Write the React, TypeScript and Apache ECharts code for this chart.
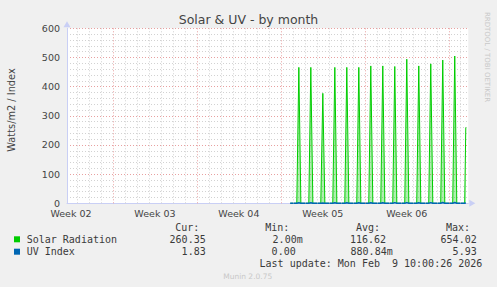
import React, { useEffect, useRef } from "react";
import * as echarts from "echarts";

// ---- data (x in days, 0 = first major week line) ----
const X_MIN = -3.83;
const X_MAX = 29.63;
const WEEK_LABELS = ["Week 02", "Week 03", "Week 04", "Week 05", "Week 06"];
const WEEK_LABEL_DAYS = [-3.5, 3.5, 10.5, 17.5, 24.5];
const WEEK_LINE_DAYS = [0, 7, 14, 21, 28];

const DATA_START_DAY = 14.78;
const SOLAR_DAYS = [15, 16, 17, 18, 19, 20, 21, 22, 23, 24, 25, 26, 27, 28];
const SOLAR_PEAKS = [466, 466, 377, 466, 466, 466, 471, 471, 469, 494, 471, 478, 491, 505];
const UV_PEAKS = [1.9, 1.8, 1.1, 1.9, 2.0, 2.0, 2.1, 2.0, 2.2, 2.4, 2.1, 2.3, 2.5, 2.6];
const LAST_DAY = 29;
const LAST_TIME = 29.42;
const SOLAR_CUR = 260.35;
const UV_CUR = 1.83;

const Y_TICKS = [0, 100, 200, 300, 400, 500, 600];

const LEGEND_NAMES = ["Solar Radiation", "UV Index"];
const LEGEND_COLORS = ["#00cc00", "#0066b3"];
const STAT_HEADERS = ["Cur:", "Min:", "Avg:", "Max:"];
const SOLAR_STATS = ["260.35", "2.00m", "116.62", "654.02"];
const UV_STATS = ["1.83", "0.00", "880.84m", "5.93"];
const LAST_UPDATE = "Last update: Mon Feb  9 10:00:26 2026";

function buildSeries(peaks: number[], cur: number): number[][] {
  const pts: number[][] = [[DATA_START_DAY, 0]];
  SOLAR_DAYS.forEach((d, i) => {
    pts.push([d + 0.33, 0]);
    pts.push([d + 0.5, peaks[i]]);
    pts.push([d + 0.67, 0]);
  });
  pts.push([LAST_DAY + 0.33, 0]);
  pts.push([LAST_TIME, cur]);
  return pts;
}

export default function App() {
  const ref = useRef<HTMLDivElement>(null);
  useEffect(() => {
    if (!ref.current) return;
    const chart = echarts.init(ref.current, null, { renderer: "svg" });

    const solar = buildSeries(SOLAR_PEAKS, SOLAR_CUR);
    const uv = buildSeries(UV_PEAKS, UV_CUR);

    const dayLines: any[] = [];
    for (let d = Math.ceil(X_MIN); d <= Math.floor(X_MAX); d++) {
      if (WEEK_LINE_DAYS.indexOf(d) >= 0) continue;
      dayLines.push({ xAxis: d, lineStyle: { color: "#d2d2d2", type: [1, 2], width: 1 } });
    }
    WEEK_LINE_DAYS.forEach((d) =>
      dayLines.push({ xAxis: d, lineStyle: { color: "#e8a0a0", type: [1, 2], width: 1 } })
    );

    const mono = "'DejaVu Sans Mono', monospace";
    const sans = "'DejaVu Sans', sans-serif";
    const txt = "#3a3a3a";

    const graphic: any[] = [
      {
        type: "text",
        x: 248.5,
        y: 19,
        style: { text: "Solar & UV - by month", font: `12.5px ${sans}`, fill: "#444", textAlign: "center", textVerticalAlign: "middle" },
      },
      {
        type: "text",
        x: 11.7,
        y: 110,
        rotation: Math.PI / 2,
        style: { text: "Watts/m2 / Index", font: `9.8px ${sans}`, fill: "#444", textAlign: "center", textVerticalAlign: "middle" },
      },
      {
        type: "text",
        x: 486.5,
        y: 57,
        rotation: -Math.PI / 2,
        style: { text: "RRDTOOL / TOBI OETIKER", font: `7px ${sans}`, fill: "#c8c8c8", textAlign: "center", textVerticalAlign: "middle" },
      },
      {
        type: "text",
        x: 247.7,
        y: 276,
        style: { text: "Munin 2.0.75", font: `7.5px ${sans}`, fill: "#c8c8c8", textAlign: "center", textVerticalAlign: "middle" },
      },
    ];

    const headerRight = [199.3, 289.3, 380, 470];
    STAT_HEADERS.forEach((h, i) =>
      graphic.push({
        type: "text",
        x: headerRight[i],
        y: 227.7,
        style: { text: h, font: `10px ${mono}`, fill: txt, textAlign: "right", textVerticalAlign: "middle" },
      })
    );
    const rowY = [239.3, 251.7];
    const statRight = [
      [205.7, 302.7, 386, 476.7],
      [205.7, 295.7, 392.7, 476.7],
    ];
    [SOLAR_STATS, UV_STATS].forEach((row, r) => {
      graphic.push({
        type: "rect",
        shape: { x: 14, y: rowY[r] - 3, width: 6, height: 6 },
        style: { fill: LEGEND_COLORS[r] },
      });
      graphic.push({
        type: "text",
        x: 26.7,
        y: rowY[r],
        style: { text: LEGEND_NAMES[r], font: `10px ${mono}`, fill: txt, textAlign: "left", textVerticalAlign: "middle" },
      });
      row.forEach((v, i) =>
        graphic.push({
          type: "text",
          x: statRight[r][i],
          y: rowY[r],
          style: { text: v, font: `10px ${mono}`, fill: txt, textAlign: "right", textVerticalAlign: "middle" },
        })
      );
    });
    graphic.push({
      type: "text",
      x: 482.3,
      y: 263.3,
      style: { text: LAST_UPDATE, font: `10px ${mono}`, fill: txt, textAlign: "right", textVerticalAlign: "middle" },
    });

    const axisLineStyle = {
      show: true,
      onZero: false,
      lineStyle: { color: "#c9cff5", width: 1 },
      symbol: ["none", "triangle"],
      symbolSize: [7, 6],
      symbolOffset: [0, 4],
    };

    chart.setOption({
      animation: false,
      backgroundColor: "#f0f0f0",
      grid: {
        left: 67,
        right: 28.7,
        top: 28.3,
        bottom: 83.7,
        show: true,
        backgroundColor: "#ffffff",
        borderWidth: 0,
      },
      xAxis: {
        type: "value",
        min: X_MIN,
        max: X_MAX,
        splitLine: { show: false },
        axisTick: { show: false },
        axisLine: axisLineStyle,
        axisLabel: {
          customValues: WEEK_LABEL_DAYS,
          formatter: (v: number) => {
            const i = WEEK_LABEL_DAYS.findIndex((d) => Math.abs(d - v) < 1e-6);
            return i >= 0 ? WEEK_LABELS[i] : "";
          },
          color: "#444",
          fontFamily: sans,
          fontSize: 9.5,
          margin: 5,
          showMinLabel: true,
          showMaxLabel: true,
        },
      },
      yAxis: {
        type: "value",
        min: 0,
        max: 600,
        interval: 100,
        axisLine: axisLineStyle,
        axisTick: { show: false },
        axisLabel: {
          color: "#444",
          fontFamily: sans,
          fontSize: 9.5,
          margin: 7,
          formatter: (v: number) => (Y_TICKS.indexOf(v) >= 0 ? String(v) : ""),
        },
        splitLine: { show: true, lineStyle: { color: "#e8a0a0", type: [1, 2], width: 1 } },
        minorTick: { show: false, splitNumber: 5 },
        minorSplitLine: { show: true, lineStyle: { color: "#d2d2d2", type: [1, 2], width: 1 } },
      },
      series: [
        {
          type: "line",
          data: [],
          z: 1,
          silent: true,
          markLine: {
            silent: true,
            symbol: ["none", "none"],
            label: { show: false },
            animation: false,
            data: dayLines,
          },
        },
        {
          name: LEGEND_NAMES[0],
          type: "line",
          data: solar,
          z: 3,
          showSymbol: false,
          symbol: "none",
          lineStyle: { color: LEGEND_COLORS[0], width: 1 },
          areaStyle: { color: "rgba(0,204,0,0.45)", origin: "start" },
        },
        {
          name: LEGEND_NAMES[1],
          type: "line",
          data: uv,
          z: 4,
          showSymbol: false,
          symbol: "none",
          lineStyle: { color: LEGEND_COLORS[1], width: 1.5 },
        },
      ],
      graphic,
    });
    return () => chart.dispose();
  }, []);

  return (
    <div
      ref={ref}
      style={{ position: "fixed", left: 0, top: 0, width: 497, height: 287 }}
    />
  );
}
